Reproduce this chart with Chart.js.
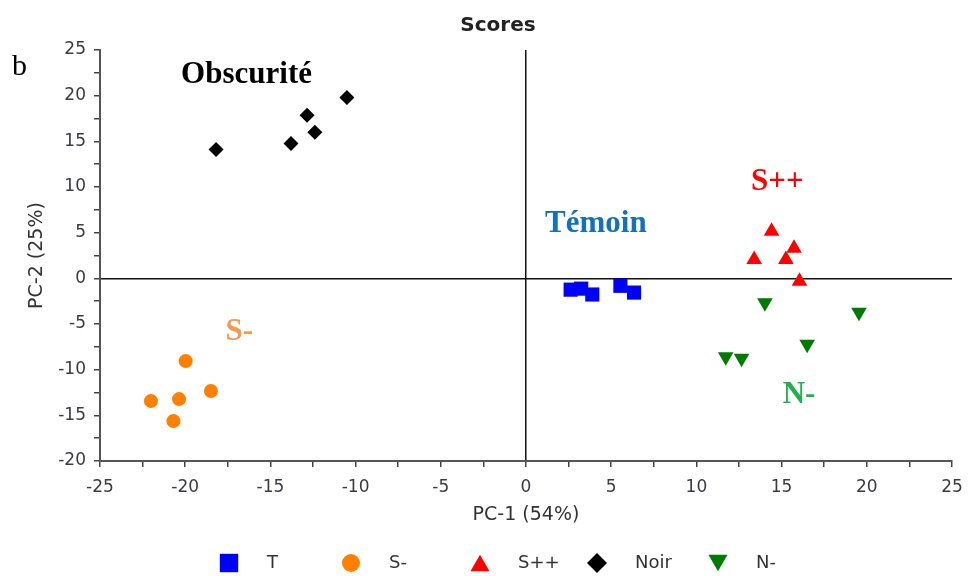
<!DOCTYPE html>
<html>
<head>
<meta charset="utf-8">
<script src="https://cdn.jsdelivr.net/npm/chart.js@4.4.1/dist/chart.umd.min.js"></script>
<style>
html,body{margin:0;padding:0;background:#fff;}
#wrap{width:968px;height:576px;position:relative;}
</style>
</head>
<body>
<div id="wrap"><canvas id="c" width="968" height="576"></canvas></div>
<script>
// ---- data ----
const seriesNames = ['T', 'S-', 'S++', 'Noir', 'N-'];
const tX = [2.62, 3.24, 3.89, 5.54, 6.34];
const tY = [-1.24, -1.13, -1.77, -0.82, -1.56];
const sMinusX = [-19.97, -22.01, -20.36, -20.69, -18.49];
const sMinusY = [-9.06, -13.44, -13.22, -15.63, -12.34];
const sPlusX = [14.41, 15.73, 13.39, 15.25, 16.05];
const sPlusY = [5.15, 3.3, 2.05, 2.05, -0.33];
const noirX = [-18.19, -13.79, -12.85, -12.39, -10.51];
const noirY = [14.1, 14.75, 17.85, 16.0, 19.8];
const nMinusX = [14.02, 19.54, 16.5, 11.72, 12.65];
const nMinusY = [-2.68, -3.72, -7.23, -8.58, -8.76];
const xTicks = [-25, -20, -15, -10, -5, 0, 5, 10, 15, 20, 25];
const yTicks = [-20, -15, -10, -5, 0, 5, 10, 15, 20, 25];
const chartTitle = 'Scores';
const xTitle = 'PC-1 (54%)';
const yTitle = 'PC-2 (25%)';
const panelLetter = 'b';
const annoText = ['Obscurité', 'Témoin', 'S++', 'S-', 'N-'];
const annoX = [-16.4, 4.1, 14.75, -16.82, 16.02];
const annoY = [21.36, 5.07, 9.71, -6.71, -13.69];
const annoColor = ['#000000', '#1270C0', '#FF0000', '#F39A4D', '#22B04E'];

const pts = (xs, ys) => xs.map((x, i) => ({x: x, y: ys[i]}));

const styles = [
  {color: '#0000FF', pointStyle: 'rect', radius: 10, rotation: 0, legRadius: 13, legDy: 0},
  {color: '#FF8000', pointStyle: 'circle', radius: 7, rotation: 0, legRadius: 9, legDy: 0},
  {color: '#FF0000', pointStyle: 'triangle', radius: 9, rotation: 0, legRadius: 11, legDy: 2.75},
  {color: '#000000', pointStyle: 'rectRot', radius: 7.5, rotation: 0, legRadius: 10, legDy: 0},
  {color: '#007A00', pointStyle: 'triangle', radius: 9, rotation: 180, legRadius: 11, legDy: -2.75}
];
const seriesData = [pts(tX, tY), pts(sMinusX, sMinusY), pts(sPlusX, sPlusY), pts(noirX, noirY), pts(nMinusX, nMinusY)];

const datasets = seriesNames.map((n, i) => ({
  label: n,
  data: seriesData[i],
  backgroundColor: styles[i].color,
  borderColor: styles[i].color,
  borderWidth: 0,
  pointStyle: styles[i].pointStyle,
  pointRadius: styles[i].radius,
  pointHoverRadius: styles[i].radius,
  rotation: styles[i].rotation,
  showLine: false
}));

const tickFont = {family: 'DejaVu Sans', size: 17};
const tickColor = '#3a3a44';

function drawMarker(ctx, st, r, x, y) {
  ctx.save();
  ctx.fillStyle = st.color;
  ctx.strokeStyle = st.color;
  if (Chart.helpers && Chart.helpers.drawPoint) {
    Chart.helpers.drawPoint(ctx, {pointStyle: st.pointStyle, radius: r, rotation: st.rotation, borderWidth: 0}, x, y);
  }
  ctx.restore();
}

const overlay = {
  id: 'overlay',
  afterDraw(chart) {
    const ctx = chart.ctx;
    const xs = chart.scales.x, ys = chart.scales.y;
    ctx.save();
    // title
    ctx.fillStyle = '#222';
    ctx.font = 'bold 20px "DejaVu Sans"';
    ctx.textAlign = 'center';
    ctx.textBaseline = 'middle';
    ctx.fillText(chartTitle, 498, 26);
    // panel letter
    ctx.font = '30px "Liberation Serif"';
    ctx.textAlign = 'left';
    ctx.textBaseline = 'alphabetic';
    ctx.fillStyle = '#000';
    ctx.fillText(panelLetter, 12, 75);
    // annotations
    ctx.font = 'bold 31px "Liberation Serif"';
    ctx.textAlign = 'center';
    annoText.forEach((t, i) => {
      ctx.fillStyle = annoColor[i];
      ctx.fillText(t, xs.getPixelForValue(annoX[i]), ys.getPixelForValue(annoY[i]));
    });
    // legend
    const legX = [229, 351, 480, 597, 718];
    const legY = 563;
    ctx.font = '18px "DejaVu Sans"';
    ctx.textAlign = 'left';
    ctx.textBaseline = 'middle';
    seriesNames.forEach((n, i) => {
      drawMarker(ctx, styles[i], styles[i].legRadius, legX[i], legY + styles[i].legDy);
      ctx.fillStyle = '#333';
      ctx.fillText(n, legX[i] + 38, legY);
    });
    ctx.restore();
  }
};

new Chart(document.getElementById('c'), {
  type: 'scatter',
  data: {datasets: datasets},
  plugins: [overlay],
  options: {
    responsive: false,
    devicePixelRatio: 1,
    animation: false,
    layout: {padding: {top: 50, right: 16, left: 0, bottom: 45}},
    plugins: {legend: {display: false}, title: {display: false}, tooltip: {enabled: false}},
    scales: {
      x: {
        type: 'linear', min: -25, max: 25,
        afterFit: s => { s.height = 70; s.paddingLeft = 0; s.paddingRight = 0; },
        afterBuildTicks: s => { s.ticks = []; for (let v = -25; v <= 25.001; v += 2.5) s.ticks.push({value: Math.round(v * 10) / 10}); },
        ticks: {autoSkip: false, maxRotation: 0, font: tickFont, color: tickColor, padding: 10,
          callback: v => (xTicks.includes(v) ? String(v) : '')},
        grid: {
          drawOnChartArea: true,
          color: c => (c.tick && c.tick.value === 0 ? '#111' : 'rgba(0,0,0,0)'),
          lineWidth: 1.5, tickColor: '#444', tickWidth: 1.5, tickLength: 6
        },
        border: {display: true, color: '#555', width: 2},
        title: {display: true, text: xTitle, font: {family: 'DejaVu Sans', size: 19}, color: '#333', padding: {top: 0, bottom: 5}}
      },
      y: {
        type: 'linear', min: -20, max: 25,
        afterFit: s => { s.width = 100; s.paddingTop = 0; s.paddingBottom = 0; },
        afterBuildTicks: s => { s.ticks = []; for (let v = -20; v <= 25.001; v += 2.5) s.ticks.push({value: Math.round(v * 10) / 10}); },
        ticks: {autoSkip: false, font: tickFont, color: tickColor, padding: 8,
          callback: v => (yTicks.includes(v) ? String(v) : '')},
        grid: {
          drawOnChartArea: true,
          color: c => (c.tick && c.tick.value === 0 ? '#111' : 'rgba(0,0,0,0)'),
          lineWidth: 1.5, tickColor: '#444', tickWidth: 1.5, tickLength: 6
        },
        border: {display: true, color: '#555', width: 2},
        title: {display: true, text: yTitle, font: {family: 'DejaVu Sans', size: 19}, color: '#333', padding: {top: 26, bottom: 0}}
      }
    }
  }
});
</script>
</body>
</html>
